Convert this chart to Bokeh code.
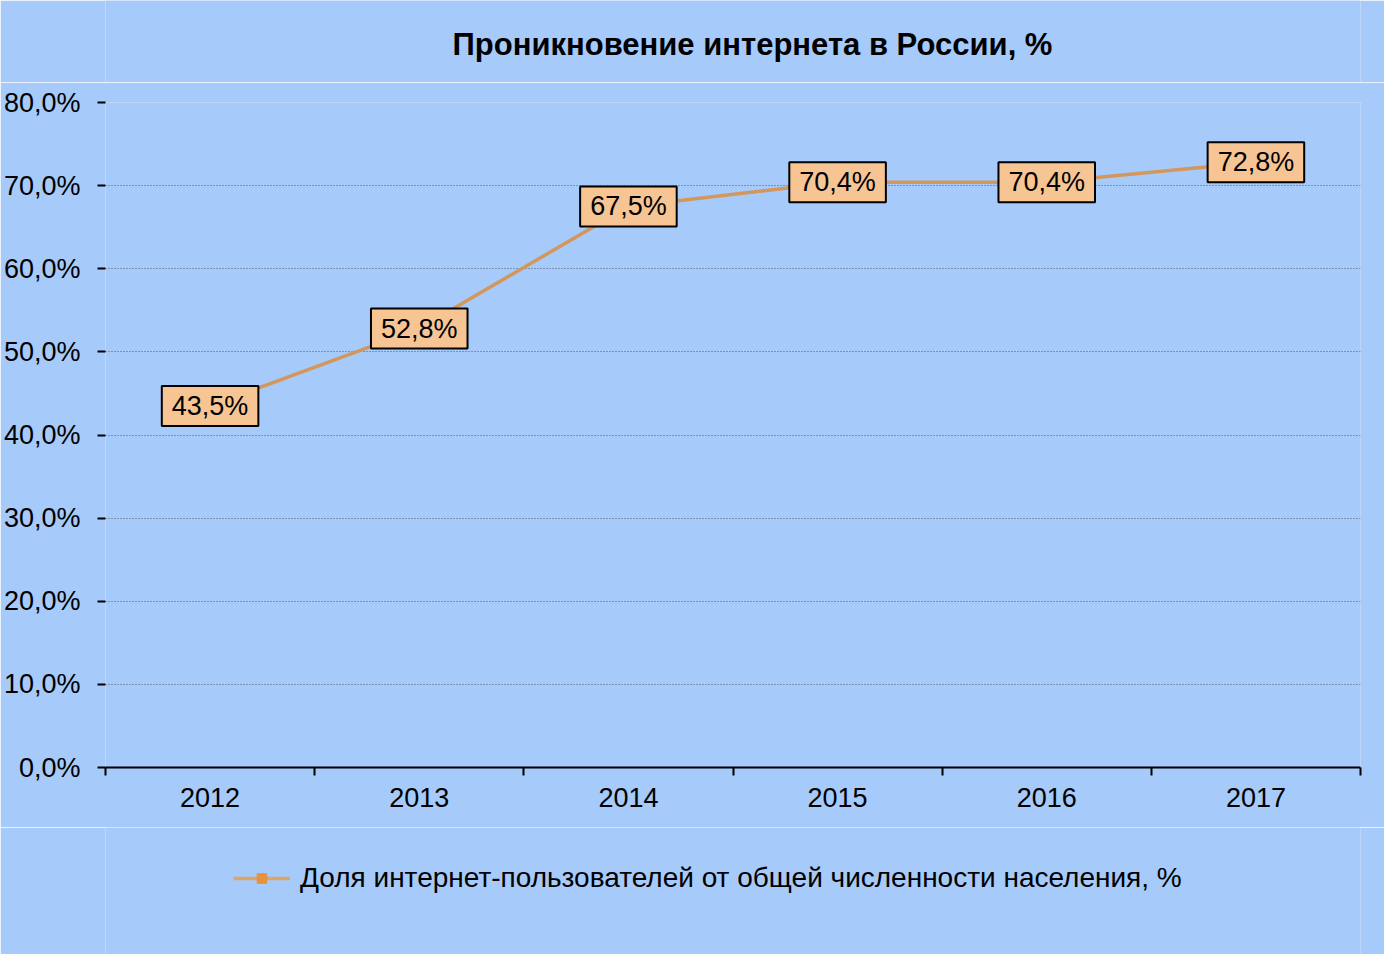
from bokeh.plotting import figure
from bokeh.models import (ColumnDataSource, Label, Legend, LegendItem,
                          Range1d, FixedTicker)
from bokeh.layouts import column
from bokeh.embed import file_html
from bokeh.resources import INLINE

years = ["2012", "2013", "2014", "2015", "2016", "2017"]
values = [43.5, 52.8, 67.5, 70.4, 70.4, 72.8]
y_ticks = [0, 10, 20, 30, 40, 50, 60, 70, 80]
title_text = "Проникновение интернета в России, %"
series_name = "Доля интернет-пользователей от общей численности населения, %"

BG = "#A6CAFA"
FONT = "Liberation Sans"
LINE_COLOR = "#D3975C"
MARK_COLOR = "#E8923A"

xs = list(range(len(years)))
labels = [f"{v:.1f}".replace(".", ",") + "%" for v in values]
src = ColumnDataSource(data=dict(x=xs, y=values, label=labels))


def blank(height):
    f = figure(width=1384, height=height, output_backend="svg", toolbar_location=None,
               x_axis_type=None, y_axis_type=None, min_border=0,
               x_range=Range1d(100, 101), y_range=Range1d(100, 101))
    f.background_fill_color = BG
    f.border_fill_color = BG
    f.outline_line_color = None
    return f


# ---- title strip (its frame is aligned with the chart frame, left edge at 105) ----
top = blank(82)
top.add_layout(Label(x=647, y=38, x_units="screen", y_units="screen", text=title_text,
                     text_align="center", text_baseline="middle", text_font=FONT,
                     text_font_size="31px", text_font_style="bold", text_color="black"))

# ---- main chart ----
p = figure(frame_width=1255, frame_height=665, output_backend="svg", toolbar_location=None,
           x_range=Range1d(-0.5, len(years) - 0.5), y_range=Range1d(0, 80),
           min_border_left=105, min_border_right=24, min_border_top=20,
           min_border_bottom=60)
p.background_fill_color = BG
p.border_fill_color = BG
p.outline_line_color = None

p.xaxis.ticker = FixedTicker(ticks=xs, minor_ticks=[i - 0.5 for i in range(len(years) + 1)])
p.xaxis.major_label_overrides = {i: y for i, y in enumerate(years)}
p.xaxis.major_tick_out = 0
p.xaxis.major_tick_in = 0
p.xaxis.minor_tick_out = 8
p.xaxis.minor_tick_in = 0
p.xaxis.minor_tick_line_color = "black"
p.xaxis.minor_tick_line_width = 2
p.xaxis.axis_line_color = "black"
p.xaxis.axis_line_width = 2
p.xaxis.major_label_text_font = FONT
p.xaxis.major_label_text_font_size = "27px"
p.xaxis.major_label_text_color = "black"
p.xaxis.major_label_standoff = 12

p.yaxis.ticker = FixedTicker(ticks=y_ticks, minor_ticks=[])
p.yaxis.major_label_overrides = {t: f"{t:.1f}".replace(".", ",") + "%" for t in y_ticks}
p.yaxis.axis_line_color = None
p.yaxis.major_tick_out = 8
p.yaxis.major_tick_in = 0
p.yaxis.major_tick_line_color = "black"
p.yaxis.major_tick_line_width = 2
p.yaxis.major_label_text_font = FONT
p.yaxis.major_label_text_font_size = "27px"
p.yaxis.major_label_text_color = "black"
p.yaxis.major_label_standoff = 17

p.xgrid.grid_line_color = None
p.ygrid.ticker = FixedTicker(ticks=y_ticks[1:])
p.ygrid.grid_line_color = "#555a66"
p.ygrid.grid_line_width = 1
p.ygrid.grid_line_dash = "1 2"

p.line("x", "y", source=src, line_color=LINE_COLOR, line_width=3.5)
p.scatter("x", "y", source=src, marker="square", size=18,
          fill_color=MARK_COLOR, line_color=MARK_COLOR)

for xv, yv, t in zip(xs, values, labels):
    p.add_layout(Label(x=xv, y=yv, text=t,
                       text_align="center", text_baseline="middle",
                       text_font=FONT, text_font_size="27px", text_color="black",
                       background_fill_color="#F6C593", border_line_color="black",
                       border_line_width=2, padding=dict(x=10, y=5)))

# ---- legend strip ----
bottom = blank(127)
lg_line = bottom.line("x", "y", source=src, line_color="#DFA46A", line_width=3.5)
lg_mark = bottom.scatter("x", "y", source=src, marker="square", size=20,
                         fill_color=MARK_COLOR, line_color=MARK_COLOR)
legend = Legend(items=[LegendItem(label=series_name, renderers=[lg_line, lg_mark])],
                location=(128, 60), orientation="horizontal",
                background_fill_alpha=0, border_line_color=None,
                label_text_font=FONT, label_text_font_size="28px",
                label_text_color="black", glyph_width=57, glyph_height=24,
                label_standoff=10, padding=0, margin=0)
bottom.add_layout(legend, "center")

layout = column(top, p, bottom, spacing=0)
open("out.html", "w").write(file_html(layout, INLINE))
